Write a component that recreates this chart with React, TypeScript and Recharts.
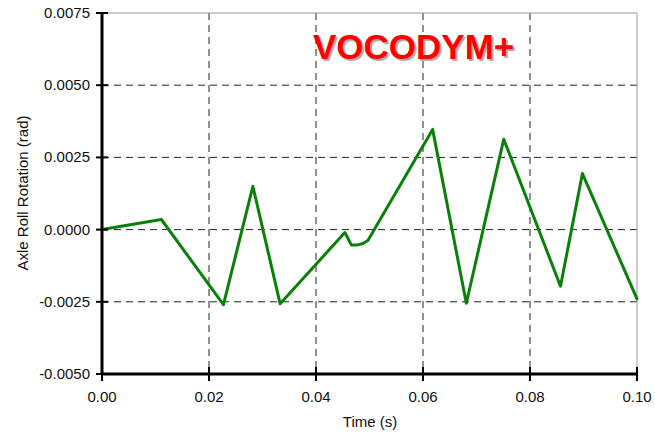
import React from "react";
import { LineChart, Line, XAxis, YAxis, CartesianGrid, ReferenceLine } from "recharts";

// time (s) and axle roll rotation (rad)
const timeValues = [
  0, 0.0111, 0.0227, 0.0282, 0.0333, 0.0454, 0.0466, 0.0478, 0.0488, 0.0497, 0.0618, 0.0681,
  0.0751, 0.0857, 0.0898, 0.1,
];
const rollValues = [
  0, 0.00035, -0.0026, 0.0015, -0.00257, -0.0001, -0.00053, -0.00053, -0.00048, -0.00038,
  0.00347, -0.00255, 0.00313, -0.00196, 0.00194, -0.0024,
];
const xTicks = [0, 0.02, 0.04, 0.06, 0.08, 0.1];
const yTicks = [-0.005, -0.0025, 0, 0.0025, 0.005, 0.0075];
const xGrid = [0.02, 0.04, 0.06, 0.08];
const yGrid = [-0.0025, 0, 0.0025, 0.005];

const data = timeValues.map((t, i) => ({ t, roll: rollValues[i] }));

const FONT = '"Liberation Sans", Arial, sans-serif';

const YTick = (p: any) => (
  <g>
    <line x1={p.x + 6} x2={p.x + 18} y1={p.y} y2={p.y} stroke="#000" strokeWidth={2} />
    <text x={p.x} y={p.y} dy={5} textAnchor="end" fontSize={15} fontFamily={FONT} fill="#111">
      {Number(p.payload.value).toFixed(4)}
    </text>
  </g>
);

const XTick = (p: any) => (
  <g>
    <line x1={p.x} x2={p.x} y1={p.y - 19} y2={p.y - 5} stroke="#000" strokeWidth={2} />
    <text x={p.x} y={p.y} dy={16} textAnchor="middle" fontSize={15} fontFamily={FONT} fill="#111">
      {Number(p.payload.value).toFixed(2)}
    </text>
  </g>
);

export default function App() {
  return (
    <div style={{ position: "absolute", left: 0, top: 0, width: 655, height: 438, background: "#fff" }}>
      <LineChart width={655} height={438} data={data} margin={{ top: 13, right: 18, bottom: 34, left: 22 }}>
        <CartesianGrid
          stroke="#222"
          strokeDasharray="7 5"
          strokeWidth={1}
          horizontalValues={yGrid}
          verticalValues={xGrid}
        />
        <XAxis
          dataKey="t"
          type="number"
          domain={[0, 0.1]}
          ticks={xTicks}
          height={30}
          tickSize={6}
          tickMargin={6}
          tickLine={false}
          axisLine={{ stroke: "#000", strokeWidth: 3 }}
          tick={<XTick />}
        />
        <YAxis
          type="number"
          domain={[-0.005, 0.0075]}
          ticks={yTicks}
          width={80}
          tickSize={6}
          tickMargin={6}
          tickLine={false}
          axisLine={{ stroke: "#000", strokeWidth: 3 }}
          tick={<YTick />}
        />
        <ReferenceLine y={0.0075} stroke="#999" strokeWidth={1} />
        <ReferenceLine x={0.1} stroke="#999" strokeWidth={1} />
        <Line
          dataKey="roll"
          type="linear"
          stroke="#0a800a"
          strokeWidth={3}
          strokeLinejoin="round"
          strokeLinecap="round"
          dot={false}
          activeDot={false}
          isAnimationActive={false}
        />
      </LineChart>
      <div
        style={{
          position: "absolute",
          left: 313,
          top: 27,
          fontFamily: FONT,
          fontWeight: "bold",
          fontSize: 35,
          lineHeight: "40px",
          color: "#ff0000",
          textShadow: "2px 2px 1px #aaa",
          whiteSpace: "nowrap",
        }}
      >
        VOCODYM+
      </div>
      <div
        style={{
          position: "absolute",
          left: 22,
          top: 193,
          transform: "translate(-50%, -50%) rotate(-90deg)",
          fontFamily: FONT,
          fontSize: 15,
          color: "#111",
          whiteSpace: "nowrap",
        }}
      >
        Axle Roll Rotation (rad)
      </div>
      <div
        style={{
          position: "absolute",
          left: 370,
          top: 421,
          transform: "translate(-50%, -50%)",
          fontFamily: FONT,
          fontSize: 15,
          color: "#111",
          whiteSpace: "nowrap",
        }}
      >
        Time (s)
      </div>
    </div>
  );
}
